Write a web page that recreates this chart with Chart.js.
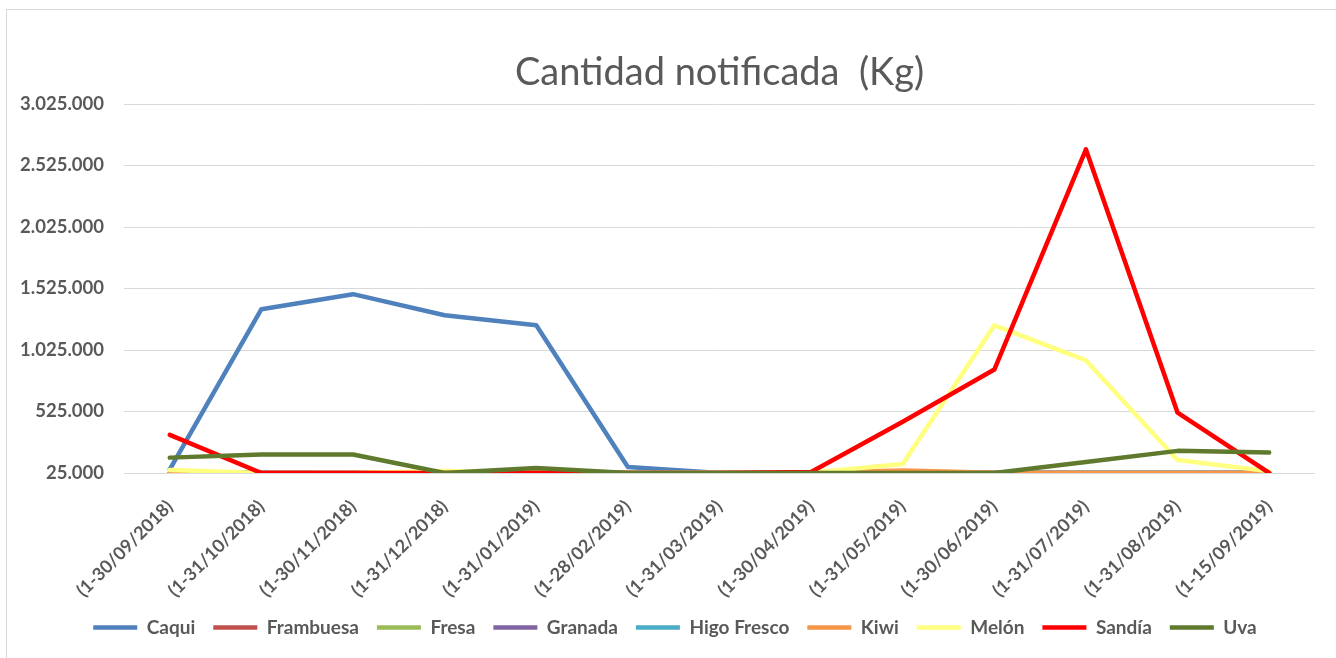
<!DOCTYPE html>
<html>
<head>
<meta charset="utf-8">
<script src="https://cdn.jsdelivr.net/npm/chart.js@4"></script>
<style>
  html, body { margin: 0; padding: 0; background: #ffffff; }
  #wrap { position: relative; width: 1336px; height: 658px; overflow: hidden; }
  #frame { position: absolute; left: 6px; top: 9px; right: -10px; bottom: -10px;
           border-left: 1px solid #d9d9d9; border-top: 1px solid #d9d9d9; pointer-events: none; }
  canvas { position: absolute; left: 0; top: 0; }
</style>
</head>
<body>
<div id="wrap">
  <canvas id="c" width="1336" height="658"></canvas>
  <div id="frame"></div>
</div>
<script>
const TITLE = 'Cantidad notificada  (Kg)';
const categories = ['(1-30/09/2018)','(1-31/10/2018)','(1-30/11/2018)','(1-31/12/2018)','(1-31/01/2019)','(1-28/02/2019)','(1-31/03/2019)','(1-30/04/2019)','(1-31/05/2019)','(1-30/06/2019)','(1-31/07/2019)','(1-31/08/2019)','(1-15/09/2019)'];
const seriesNames = ['Caqui','Frambuesa','Fresa','Granada','Higo Fresco','Kiwi','Melón','Sandía','Uva'];
const caqui     = [55000, 1357000, 1479000, 1308000, 1226000, 74000, 25000, 25000, 25000, 25000, 25000, 25000, 25000];
const frambuesa = [25000, 25000, 25000, 25000, 25000, 25000, 25000, 25000, 25000, 25000, 25000, 25000, 25000];
const fresa     = [25000, 25000, 25000, 25000, 25000, 25000, 25000, 25000, 25000, 25000, 25000, 25000, 25000];
const granada   = [25000, 32000, 27000, 25000, 25000, 25000, 25000, 25000, 25000, 25000, 25000, 25000, 25000];
const higo      = [25000, 25000, 25000, 25000, 25000, 25000, 25000, 25000, 25000, 25000, 25000, 25000, 25000];
const kiwi      = [27000, 25000, 25000, 25000, 25000, 25000, 25000, 27000, 45000, 28000, 25000, 25000, 25000];
const melon     = [50000, 25000, 25000, 41000, 30000, 25000, 25000, 28000, 98000, 1226000, 940000, 131000, 40000];
const sandia    = [335000, 25000, 25000, 25000, 28000, 25000, 25000, 33000, 442000, 866000, 2656000, 515000, 25000];
const uva       = [150000, 175000, 175000, 25000, 65000, 25000, 25000, 25000, 25000, 25000, 115000, 205000, 191000];
const yTicks = [25000, 525000, 1025000, 1525000, 2025000, 2525000, 3025000];
const colors = ['#4f81bd','#c0504d','#9bbb59','#8064a2','#4bacc6','#f79646','#ffff80','#ff0000','#5f7a2d'];
const values = [caqui, frambuesa, fresa, granada, higo, kiwi, melon, sandia, uva];

const FONT = 'Lato, "Liberation Sans", sans-serif';
const fmt = v => String(v).replace(/\B(?=(\d{3})+(?!\d))/g, '.');

const titlePlugin = {
  id: 'excelTitle',
  afterLayout(chart) {
    if (chart.legend) { chart.legend.left += 17.5; chart.legend.right += 17.5; }
  },
  afterDraw(chart) {
    const {ctx, chartArea} = chart;
    ctx.save();
    ctx.font = '38px ' + FONT;
    ctx.fillStyle = '#595959';
    ctx.textAlign = 'center';
    ctx.textBaseline = 'alphabetic';
    ctx.fillText(TITLE, (chartArea.left + chartArea.right) / 2, 85);
    ctx.restore();
  }
};

const datasets = seriesNames.map((name, i) => ({
  label: name,
  data: values[i],
  borderColor: colors[i],
  backgroundColor: colors[i],
  borderWidth: 4.5,
  borderCapStyle: 'round',
  borderJoinStyle: 'round',
  pointRadius: 0,
  pointHoverRadius: 0,
  tension: 0,
  fill: false,
  clip: 0,
  order: seriesNames.length - i
}));

new Chart(document.getElementById('c'), {
  type: 'line',
  data: { labels: categories, datasets },
  options: {
    responsive: false,
    animation: false,
    devicePixelRatio: 1,
    layout: { padding: { left: 0, right: 21, top: 104, bottom: 11 } },
    plugins: {
      title: { display: false },
      tooltip: { enabled: false },
      legend: {
        position: 'bottom',
        labels: {
          usePointStyle: true,
          pointStyle: 'line',
          pointStyleWidth: 44,
          boxHeight: 19,
          padding: 18,
          color: '#595959',
          font: { family: FONT, size: 19, weight: 'bold' },
          sort: (a, b) => a.datasetIndex - b.datasetIndex
        }
      }
    },
    scales: {
      x: {
        offset: true,
        grid: { display: false },
        border: { display: false },
        ticks: {
          color: '#595959',
          font: { family: FONT, size: 18, weight: 'bold' },
          minRotation: 45,
          maxRotation: 45,
          autoSkip: false,
          padding: 15
        },
        afterFit(scale) { scale.height = 127; }
      },
      y: {
        min: 25000,
        max: 3025000,
        afterBuildTicks(scale) { scale.ticks = yTicks.map(v => ({ value: v })); },
        grid: { color: '#d9d9d9', lineWidth: 1, drawTicks: false },
        border: { display: false },
        ticks: {
          color: '#595959',
          font: { family: FONT, size: 18.5, weight: 'bold' },
          padding: 20,
          callback: v => fmt(v)
        },
        afterFit(scale) { scale.width = 124; }
      }
    }
  },
  plugins: [titlePlugin]
});
</script>
</body>
</html>
